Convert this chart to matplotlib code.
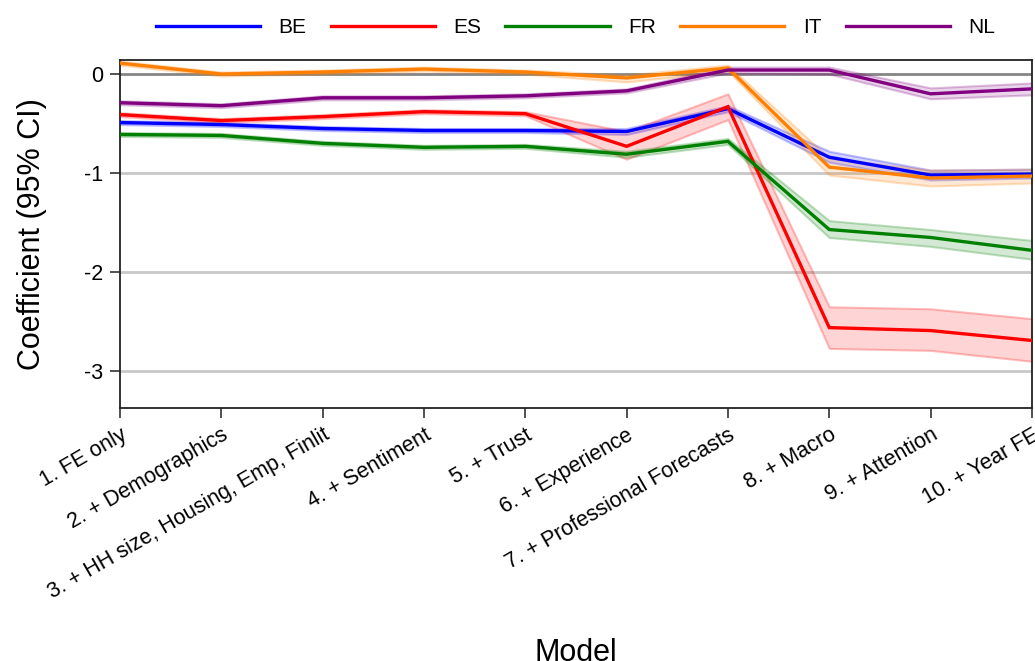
import matplotlib
matplotlib.use("Agg")
import matplotlib.pyplot as plt
from matplotlib.colors import to_rgba
import numpy as np

plt.rcParams['font.family'] = ['Liberation Sans', 'DejaVu Sans']

models = [
    "1. FE only",
    "2. + Demographics",
    "3. + HH size, Housing, Emp, Finlit",
    "4. + Sentiment",
    "5. + Trust",
    "6. + Experience",
    "7. + Professional Forecasts",
    "8. + Macro",
    "9. + Attention",
    "10. + Year FE",
]

countries = ["BE", "ES", "FR", "IT", "NL"]

be_coef = [-0.49, -0.51, -0.55, -0.57, -0.57, -0.58, -0.35, -0.84, -1.02, -1.01]
be_lo   = [-0.51, -0.53, -0.57, -0.59, -0.59, -0.61, -0.38, -0.89, -1.07, -1.05]
be_hi   = [-0.47, -0.49, -0.53, -0.55, -0.55, -0.55, -0.32, -0.78, -0.97, -0.96]

es_coef = [-0.41, -0.47, -0.43, -0.38, -0.40, -0.73, -0.33, -2.56, -2.59, -2.69]
es_lo   = [-0.43, -0.49, -0.45, -0.40, -0.42, -0.86, -0.46, -2.77, -2.79, -2.90]
es_hi   = [-0.39, -0.45, -0.41, -0.36, -0.38, -0.58, -0.20, -2.35, -2.37, -2.47]

fr_coef = [-0.61, -0.62, -0.70, -0.74, -0.73, -0.81, -0.68, -1.57, -1.65, -1.78]
fr_lo   = [-0.63, -0.64, -0.72, -0.76, -0.75, -0.84, -0.71, -1.65, -1.74, -1.87]
fr_hi   = [-0.59, -0.60, -0.68, -0.72, -0.71, -0.78, -0.65, -1.48, -1.57, -1.68]

it_coef = [0.11, 0.00, 0.02, 0.05, 0.02, -0.04, 0.06, -0.94, -1.05, -1.03]
it_lo   = [0.09, -0.02, 0.00, 0.03, 0.00, -0.08, 0.03, -1.02, -1.13, -1.10]
it_hi   = [0.13, 0.02, 0.04, 0.07, 0.04, -0.01, 0.09, -0.85, -0.97, -0.96]

nl_coef = [-0.29, -0.32, -0.24, -0.24, -0.22, -0.17, 0.04, 0.04, -0.20, -0.15]
nl_lo   = [-0.31, -0.34, -0.26, -0.26, -0.24, -0.19, 0.01, 0.00, -0.25, -0.21]
nl_hi   = [-0.27, -0.30, -0.22, -0.22, -0.20, -0.15, 0.07, 0.07, -0.14, -0.09]

colors = ["#0000ff", "#ff0000", "#008000", "#ff7f00", "#800080"]

series = [
    (be_coef, be_lo, be_hi),
    (es_coef, es_lo, es_hi),
    (fr_coef, fr_lo, fr_hi),
    (it_coef, it_lo, it_hi),
    (nl_coef, nl_lo, nl_hi),
]

fig = plt.figure(figsize=(10.35, 6.61), dpi=100)
ax = fig.add_axes([0.116, 0.383, 0.881, 0.526])

x = np.arange(1, len(models) + 1)

# reference lines
for yv in [-1, -2, -3]:
    ax.axhline(yv, color="#c8c8c8", lw=2, zorder=0)
ax.axhline(0, color="#858585", lw=2, zorder=0)

for name, col, (coef, lo, hi) in zip(countries, colors, series):
    ax.fill_between(x, lo, hi, facecolor=to_rgba(col, 0.17),
                    edgecolor=to_rgba(col, 0.25), linewidth=1.5, zorder=2)
    ax.plot(x, coef, color=col, lw=2.4, label=name, zorder=3,
            solid_joinstyle="miter")

ax.set_xlim(1, 10)
ax.set_ylim(-3.37, 0.14)
ax.set_yticks([0, -1, -2, -3])
ax.set_yticklabels(["0", "-1", "-2", "-3"])
ax.set_xticks(x)
ax.set_xticklabels(models, rotation=30, ha="right", rotation_mode="anchor")

ax.tick_params(axis="both", direction="out", length=7, width=1.2,
               color="#333333", labelsize=15.5, labelcolor="black", pad=5)
for sp in ax.spines.values():
    sp.set_linewidth(1.3)
    sp.set_color("#222222")

ax.set_ylabel("Coefficient (95% CI)", fontsize=22, labelpad=27)
ax.set_xlabel("Model", fontsize=22, labelpad=25)

leg = fig.legend(loc="center", bbox_to_anchor=(0.556, 0.958), ncol=5,
                 frameon=False, fontsize=15, handlelength=5.0,
                 handletextpad=0.9, columnspacing=1.15)
for h in leg.get_lines():
    h.set_linewidth(2.4)

fig.savefig("out.png", dpi=100)
